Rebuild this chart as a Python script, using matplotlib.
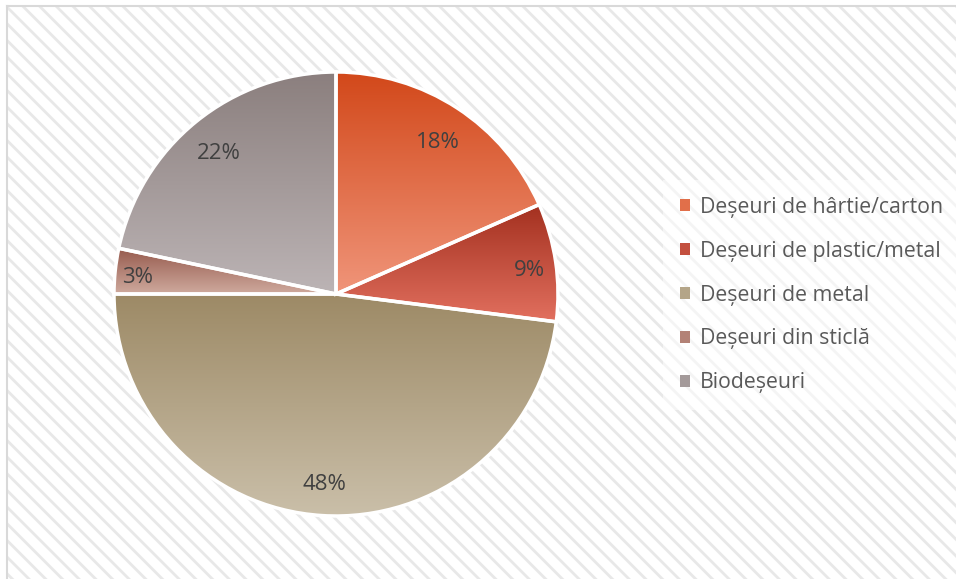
#!/usr/bin/env python3
"""pie chart: waste composition by type (deseuri)"""
import matplotlib
matplotlib.use('Agg')
import matplotlib.pyplot as plt
import numpy as np
from matplotlib.patches import Rectangle, Patch
from matplotlib.colors import LinearSegmentedColormap
from matplotlib.lines import Line2D

categories = ['Deșeuri de hârtie/carton', 'Deșeuri de plastic/metal', 'Deșeuri de metal',
              'Deșeuri din sticlă', 'Biodeșeuri']
shares = [18.4, 8.6, 48.0, 3.3, 21.7]

# gradient per slice: (top colour, bottom colour)
grad_top = ['#d2481a', '#a3301f', '#9d8a66', '#965a4d', '#8b7f7e']
grad_bot = ['#f0957a', '#e2705f', '#cabfa9', '#cfaa9e', '#bcb4b5']

W, H = 956, 579
plt.rcParams['font.family'] = ['Open Sans', 'DejaVu Sans']
plt.rcParams['hatch.linewidth'] = 2.0
plt.rcParams['hatch.color'] = '#e8e8e8'

fig = plt.figure(figsize=(W / 100, H / 100), dpi=100)
fig.patch.set_facecolor('white')

# hatched chart area, border on top/left only
x0, ytop = 7 / W, 1 - 6 / H
bg = Rectangle((x0, -0.01), 1.02 - x0, ytop + 0.01, transform=fig.transFigure,
               facecolor='white', edgecolor='#e8e8e8', hatch='\\\\', linewidth=0, zorder=-5)
fig.patches.append(bg)
fig.lines.append(Line2D([x0, x0], [-0.01, ytop], transform=fig.transFigure, color='#d9d9d9', lw=1.5, zorder=-4))
fig.lines.append(Line2D([x0, 1.01], [ytop, ytop], transform=fig.transFigure, color='#d9d9d9', lw=1.5, zorder=-4))

# pie axes: centre (336, 294) px, radius 222 px
cx, cy, r = 336, H - 294, 222
ax = fig.add_axes([(cx - r) / W, (cy - r) / H, 2 * r / W, 2 * r / H])
ax.patch.set_visible(False)

wedges, texts, autotexts = ax.pie(shares, startangle=90, counterclock=False,
                                  autopct='%.0f%%', pctdistance=0.84,
                                  wedgeprops=dict(edgecolor='white', linewidth=2.5),
                                  textprops=dict(color='#404040', fontsize=16))

grad = np.linspace(0, 1, 256).reshape(-1, 1)
for i, w in enumerate(wedges):
    bb = w.get_path().get_extents()
    cmap = LinearSegmentedColormap.from_list(f'g{i}', [grad_top[i], grad_bot[i]])
    w.set_facecolor('none')
    w.set_zorder(3)
    # row 0 (top colour) at the top of the slice
    im = ax.imshow(grad, cmap=cmap, extent=(bb.x0, bb.x1, bb.y0, bb.y1),
                   aspect='auto', zorder=2, origin='upper')
    im.set_clip_path(w)

# small slices: labels sit a bit further out, like excel does
for t, k in zip(autotexts, [1.0, 1.05, 1.0, 1.07, 1.0]):
    x, y = t.get_position()
    t.set_position((x * k, y * k - 0.02))
    t.set_zorder(5)

ax.set_xlim(-1, 1)
ax.set_ylim(-1, 1)
ax.set_aspect('auto')
ax.axis('off')

handles = [Patch(facecolor=LinearSegmentedColormap.from_list('h', [grad_top[i], grad_bot[i]])(0.5),
                 edgecolor='none') for i in range(len(categories))]
leg = fig.legend(handles, categories, loc='center left', bbox_to_anchor=(652 / W, 1 - 295 / H),
                 frameon=True, fontsize=15.3, labelcolor='#595959', handlelength=0.5,
                 handleheight=0.5, handletextpad=0.45, labelspacing=1.08, borderpad=0.8,
                 fancybox=False)
leg.get_frame().set_facecolor('white')
leg.get_frame().set_alpha(0.55)
leg.get_frame().set_edgecolor('none')

fig.savefig('out.png', dpi=100)
